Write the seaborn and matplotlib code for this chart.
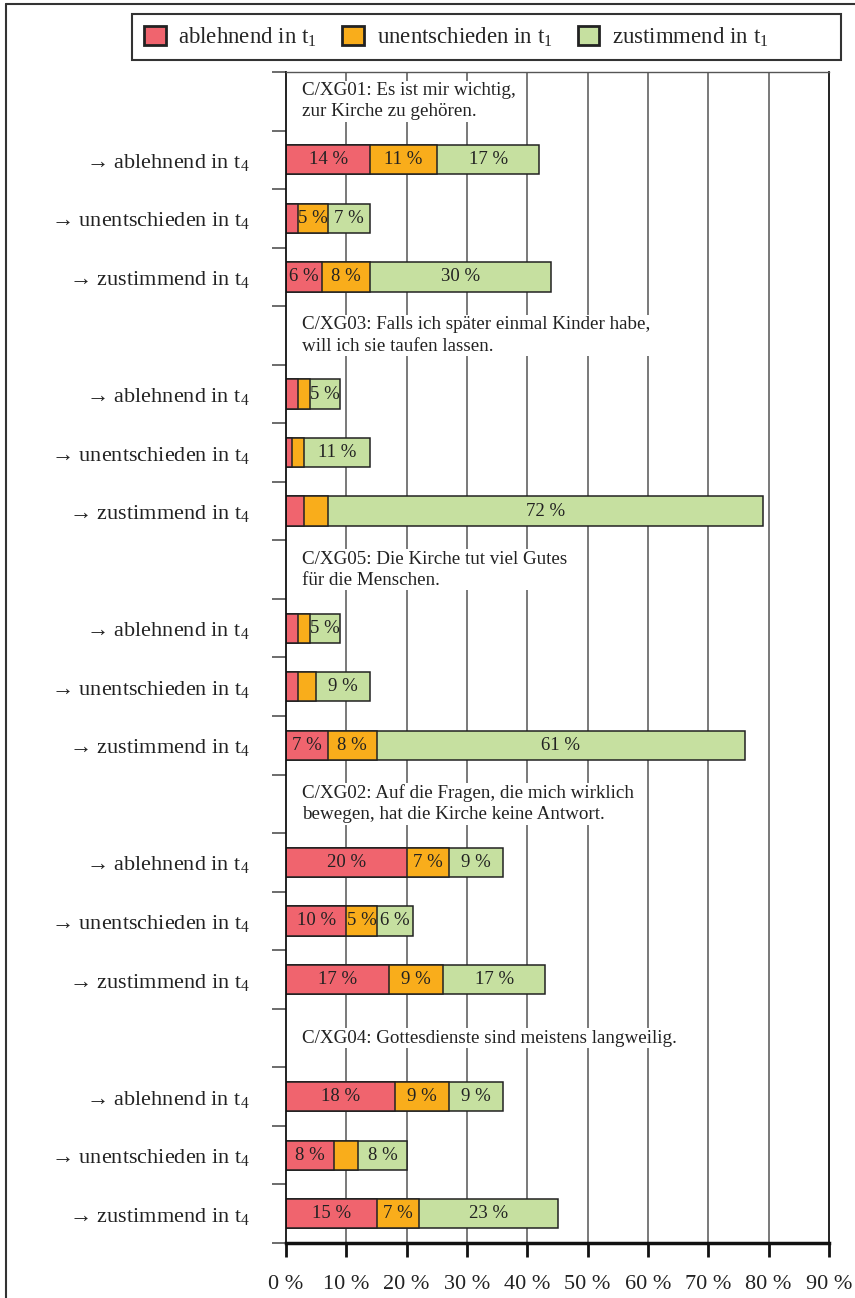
import numpy as np
import pandas as pd
import seaborn as sns
import matplotlib
matplotlib.use("Agg")
import matplotlib.pyplot as plt
from matplotlib.patches import Rectangle, Patch
from matplotlib.lines import Line2D

# ---------------- data ----------------
titles = [
    "C/XG01: Es ist mir wichtig,\nzur Kirche zu gehören.",
    "C/XG03: Falls ich später einmal Kinder habe,\nwill ich sie taufen lassen.",
    "C/XG05: Die Kirche tut viel Gutes\nfür die Menschen.",
    "C/XG02: Auf die Fragen, die mich wirklich\nbewegen, hat die Kirche keine Antwort.",
    "C/XG04: Gottesdienste sind meistens langweilig.",
]
row_labels = [
    r"→ ablehnend in $\mathregular{t_4}$",
    r"→ unentschieden in $\mathregular{t_4}$",
    r"→ zustimmend in $\mathregular{t_4}$",
]
legend_labels = [
    r"ablehnend in $\mathregular{t_1}$",
    r"unentschieden in $\mathregular{t_1}$",
    r"zustimmend in $\mathregular{t_1}$",
]
red = [14, 2, 6, 2, 1, 3, 2, 2, 7, 20, 10, 17, 18, 8, 15]
orange = [11, 5, 8, 2, 2, 4, 2, 3, 8, 7, 5, 9, 9, 4, 7]
green = [17, 7, 30, 5, 11, 72, 5, 9, 61, 9, 6, 17, 9, 8, 23]
xticks = [0, 10, 20, 30, 40, 50, 60, 70, 80, 90]

colors = ["#F0646E", "#F9AD1B", "#C6E0A0"]
edge = "#222222"

# ---------------- style ----------------
sns.set_theme(style="white")
plt.rcParams["font.family"] = ["Liberation Serif", "DejaVu Serif"]
plt.rcParams["mathtext.fontset"] = "custom"
plt.rcParams["mathtext.rm"] = "Liberation Serif"
plt.rcParams["mathtext.it"] = "Liberation Serif:italic"

W, H = 855, 1298
fig = plt.figure(figsize=(W / 100, H / 100), dpi=100)
ax = fig.add_axes([286 / W, 1 - 1243 / H, (829 - 286) / W, (1243 - 72) / H])

# slot positions: title slot 4g, rows 4g+1..4g+3
n_groups = len(titles)
pos = []
for g in range(n_groups):
    pos += [4 * g + 1, 4 * g + 2, 4 * g + 3]
pos = np.array(pos, dtype=float)

r = np.array(red, dtype=float)
o = np.array(orange, dtype=float)
gr = np.array(green, dtype=float)
cum_ro = r + o
cum_all = r + o + gr

df = pd.DataFrame({"pos": pos, "red": r, "ro": cum_ro, "all": cum_all})

for col, c in [("all", colors[2]), ("ro", colors[1]), ("red", colors[0])]:
    sns.barplot(data=df, x=col, y="pos", orient="y", native_scale=True,
                color=c, width=0.5, edgecolor=edge, linewidth=1.1,
                errorbar=None, saturation=1, ax=ax, zorder=2)

# value labels
for i in range(len(pos)):
    starts = [0, r[i], cum_ro[i]]
    vals = [r[i], o[i], gr[i]]
    for s, v in zip(starts, vals):
        if v >= 5:
            ax.text(s + v / 2, pos[i], f"{int(v)} %", ha="center", va="center",
                    fontsize=13.5, color="#222222", zorder=4)

# group titles
for g, t in enumerate(titles):
    ax.text(2.6, 4 * g, t, ha="left", va="center", fontsize=13.7,
            color="#222222", linespacing=1.32, zorder=3,
            bbox=dict(facecolor="white", edgecolor="none", pad=1.0))

# axes
ax.set_xlim(0, 90)
ax.set_ylim(19.5, -0.5)
ax.set_xlabel("")
ax.set_ylabel("")

ax.set_xticks(xticks)
ax.set_xticklabels([f"{x} %" for x in xticks], fontsize=16, color="#222222")
for x in xticks[1:-1]:
    ax.axvline(x, color="#555555", lw=1.1, zorder=0.5)

boundaries = np.arange(-0.5, 20.0, 1.0)
ax.set_yticks(boundaries)
ax.set_yticklabels([])
ax.set_yticks(pos, [row_labels[i % 3] for i in range(len(pos))], minor=True)
ax.tick_params(axis="y", which="major", length=10, width=1.1, color="#444444", left=True)
ax.tick_params(axis="y", which="minor", length=0, pad=26, labelsize=16, labelcolor="#222222")
ax.tick_params(axis="x", which="major", length=10, width=2, color="#111111",
               bottom=True, pad=13)

for side in ["left", "right", "top", "bottom"]:
    ax.spines[side].set_visible(True)
    ax.spines[side].set_color("#111111")
ax.spines["left"].set_linewidth(1.3)
ax.spines["right"].set_linewidth(1.3)
ax.spines["top"].set_linewidth(1.0)
ax.spines["top"].set_color("#555555")
ax.spines["bottom"].set_linewidth(2.5)

# legend
handles = [Patch(facecolor=c, edgecolor=edge, linewidth=2) for c in colors]
fig.legend(handles, legend_labels, loc="center left",
           bbox_to_anchor=(144 / W, 1 - 37 / H), ncol=3, frameon=False,
           fontsize=16.5, handlelength=0.95, handleheight=0.95,
           handletextpad=0.55, columnspacing=1.1, borderpad=0, borderaxespad=0)
fig.add_artist(Rectangle((132 / W, 1 - 60 / H), (841 - 132) / W, 46 / H,
                         transform=fig.transFigure, facecolor="none",
                         edgecolor="#333333", linewidth=1.5))

# outer frame (left and top edges)
fig.add_artist(Line2D([6 / W, 6 / W], [0, 1 - 4 / H], transform=fig.transFigure,
                      color="#333333", lw=1.5))
fig.add_artist(Line2D([6 / W, 1], [1 - 4 / H, 1 - 4 / H], transform=fig.transFigure,
                      color="#333333", lw=1.5))

fig.savefig("out.png", dpi=100)
